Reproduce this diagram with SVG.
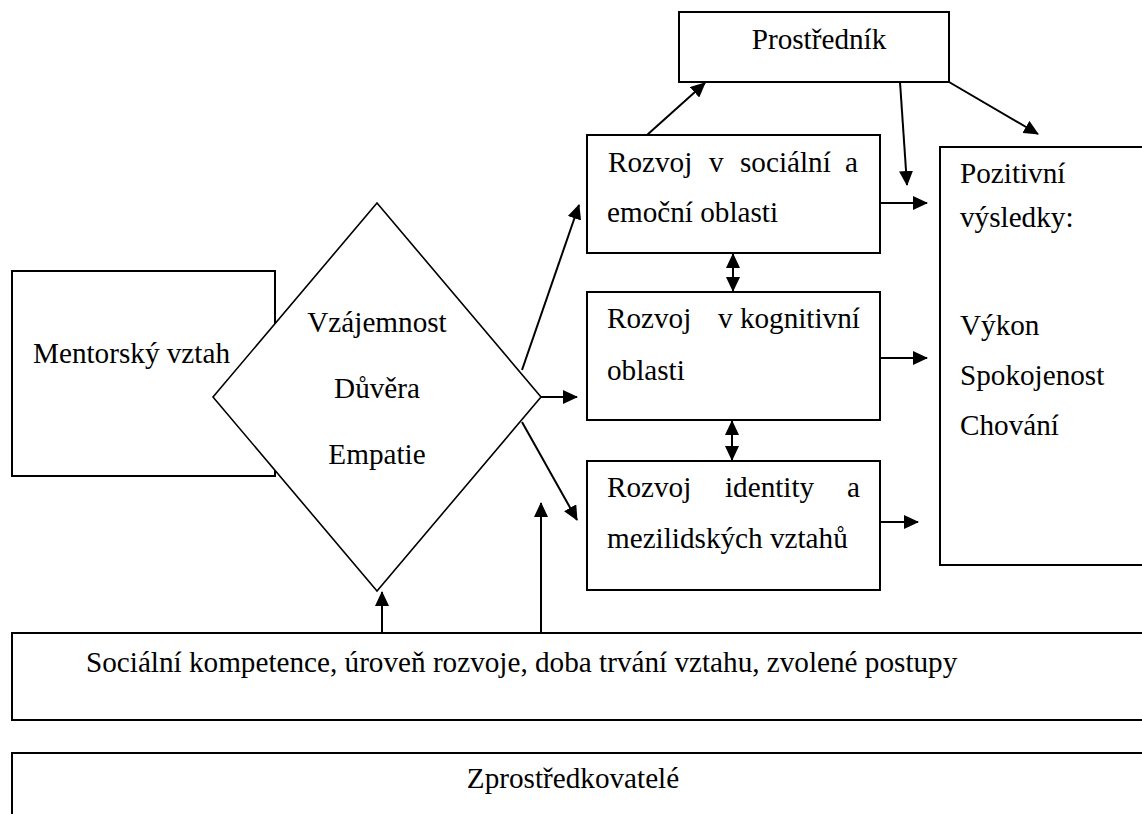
<svg xmlns="http://www.w3.org/2000/svg" width="1142" height="814" viewBox="0 0 1142 814">
<style>
.box{fill:#fff;stroke:#000;stroke-width:2}
.dia{fill:#fff;stroke:#000;stroke-width:1.6}
.t{font-family:"Liberation Serif","Times New Roman",serif;font-size:29.2px;fill:#000}
.c{stroke:#000;stroke-width:2;fill:none;marker-end:url(#ah)}
.d{marker-start:url(#ah)}
</style>
<defs>
<marker id="ah" markerUnits="userSpaceOnUse" markerWidth="15" markerHeight="14" refX="14" refY="7" orient="auto-start-reverse">
<path d="M0,0 L15,7 L0,14 z" fill="#000"/>
</marker>
</defs>
<rect width="1142" height="814" fill="#fff"/>
<g id="mentor">
<rect class="box" x="12" y="271" width="263" height="205"/>
<text class="t" x="33" y="363">Mentorský vztah</text>
</g>
<g id="diamond">
<polygon class="dia" points="377,203 541,397 377,591 213,397"/>
<text class="t" x="377" y="332" text-anchor="middle">Vzájemnost</text>
<text class="t" x="377" y="398" text-anchor="middle">Důvěra</text>
<text class="t" x="377" y="464" text-anchor="middle">Empatie</text>
</g>
<g id="prostrednik">
<rect class="box" x="679" y="12" width="270" height="70"/>
<text class="t" x="819" y="49" text-anchor="middle">Prostředník</text>
</g>
<g id="social">
<rect class="box" x="587" y="135" width="293" height="118"/>
<text class="t" y="172"><tspan x="608">Rozvoj</tspan><tspan x="709">v</tspan><tspan x="740">sociální</tspan><tspan x="845">a</tspan></text>
<text class="t" x="607" y="222">emoční oblasti</text>
</g>
<g id="cognitive">
<rect class="box" x="587" y="292" width="293" height="128"/>
<text class="t" y="328"><tspan x="607">Rozvoj</tspan><tspan x="718">v kognitivní</tspan></text>
<text class="t" x="607" y="380">oblasti</text>
</g>
<g id="identity">
<rect class="box" x="587" y="461" width="293" height="129"/>
<text class="t" y="497"><tspan x="607">Rozvoj</tspan><tspan x="725">identity</tspan><tspan x="847">a</tspan></text>
<text class="t" x="607" y="548">mezilidských vztahů</text>
</g>
<g id="positive">
<rect class="box" x="940" y="147" width="220" height="418"/>
<text class="t" x="960" y="183">Pozitivní</text>
<text class="t" x="960" y="227">výsledky:</text>
<text class="t" x="960" y="335">Výkon</text>
<text class="t" x="960" y="385">Spokojenost</text>
<text class="t" x="960" y="435">Chování</text>
</g>
<g id="moderators">
<rect class="box" x="12" y="633" width="1150" height="87"/>
<text class="t" x="86" y="672">Sociální kompetence, úroveň rozvoje, doba trvání vztahu, zvolené postupy</text>
</g>
<g id="mediators">
<rect class="box" x="12" y="753" width="1150" height="80"/>
<text class="t" x="573" y="788" text-anchor="middle">Zprostředkovatelé</text>
</g>
<g id="connectors">
<line class="c" x1="522" y1="370" x2="579" y2="205"/>
<line class="c" x1="541" y1="397" x2="577" y2="397"/>
<line class="c" x1="522" y1="422" x2="577" y2="520"/>
<line class="c" x1="382" y1="633" x2="382" y2="592"/>
<line class="c" x1="541" y1="633" x2="541" y2="503"/>
<line class="c" x1="647" y1="135" x2="705" y2="83"/>
<line class="c" x1="900" y1="82" x2="907" y2="185"/>
<line class="c" x1="949" y1="82" x2="1038" y2="134"/>
<line class="c" x1="880" y1="203" x2="927" y2="203"/>
<line class="c" x1="880" y1="358" x2="927" y2="358"/>
<line class="c" x1="880" y1="522" x2="918" y2="522"/>
<line class="c d" x1="733" y1="254" x2="733" y2="291"/>
<line class="c d" x1="732" y1="421" x2="732" y2="460"/>
</g>
</svg>
